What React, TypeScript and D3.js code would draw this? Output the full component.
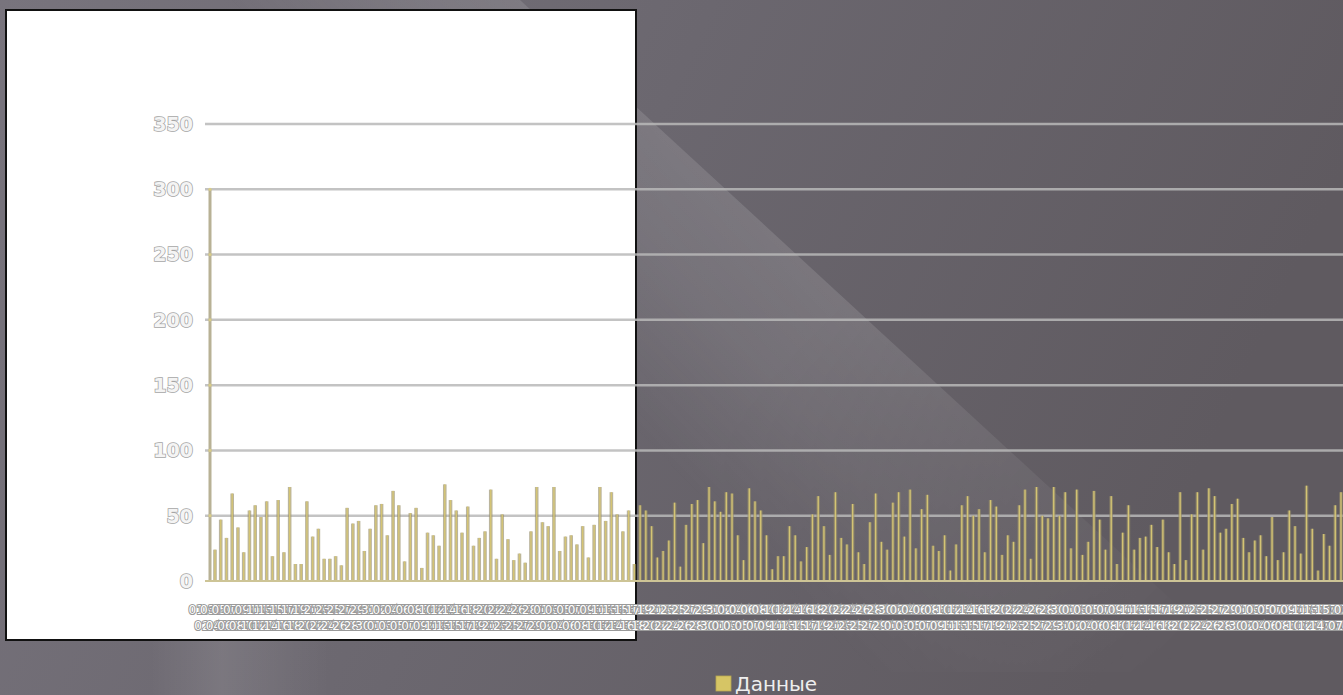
import React from 'react'
import * as d3 from 'd3'

// bar values, left to right
const values0 = [24, 47, 33, 67, 41, 22, 54, 58, 49, 61, 19, 62, 22, 72, 13, 13, 61, 34, 40, 17, 17, 19, 12, 56, 44, 46, 23, 40, 58, 59, 35, 69, 58, 15, 52, 56]
const values1 = [10, 37, 35, 27, 74, 62, 54, 37, 57, 27, 33, 38, 70, 17, 51, 32, 16, 21, 14, 38, 72, 45, 42, 72, 23, 34, 35, 28, 42, 18, 43, 72, 46, 68, 51, 38, 54, 13]
const values2 = [58, 54, 42, 18, 23, 31, 60, 11, 43, 59, 62, 29, 72, 61, 53, 68, 67, 35, 16, 71, 61, 54, 35, 9, 19, 19, 42, 35, 15, 26, 51, 65, 42, 20, 68, 33, 28, 59, 22]
const values3 = [13, 45, 67, 30, 24, 60, 68, 34, 70, 25, 55, 66, 27, 23, 35, 8, 28, 58, 65, 50, 55, 22, 62, 57, 20, 35, 30, 58, 70, 17, 72, 50, 48, 72, 50, 68, 25, 70, 20, 30, 69]
const values4 = [47, 24, 65, 13, 37, 58, 24, 33, 34, 43, 26, 47, 22, 13, 68, 16, 51, 68, 24, 71, 65, 37, 40, 59, 63, 33, 22, 31, 35, 19, 49, 16, 22, 54, 42, 21, 73, 40, 8, 36, 27, 58, 68]
const values = [...values0, ...values1, ...values2, ...values3, ...values4]
// the category labels overlap into a blur in the picture; daily dates stand in for them
const fmt = d3.timeFormat('%d.%m.%Y')
const categories = d3.timeDay.range(new Date(2012, 0, 1), new Date(2012, 0, 1 + values.length)).map(d => fmt(d))
const yTicks = [0, 50, 100, 150, 200, 250, 300, 350]
const seriesName = 'Данные'

const W = 1343
const H = 695

export default function App() {
  const x = d3.scaleBand<string>()
    .domain(categories)
    .range([212.1, 212.1 + categories.length * 5.745])
    .padding(0)
  const y = d3.scaleLinear().domain([0, 350]).range([581, 124])
  const cx = (c: string) => (x(c) as number) + x.bandwidth() / 2

  const font = '"DejaVu Sans", Verdana, sans-serif'

  return (
    <svg width={W} height={H} style={{ position: 'absolute', left: 0, top: 0, display: 'block' }}>
      <defs>
        <linearGradient id="bg" x1="0" y1="0" x2="1" y2="0.25">
          <stop offset="0" stopColor="#78747d" />
          <stop offset="0.5" stopColor="#6b676f" />
          <stop offset="1" stopColor="#5f5a60" />
        </linearGradient>
        <linearGradient id="streak" gradientUnits="userSpaceOnUse" x1="880" y1="330" x2="700" y2="500">
          <stop offset="0" stopColor="#ffffff" stopOpacity="0.13" />
          <stop offset="0.45" stopColor="#ffffff" stopOpacity="0.09" />
          <stop offset="1" stopColor="#ffffff" stopOpacity="0" />
        </linearGradient>
        <linearGradient id="fadeAlong" gradientUnits="userSpaceOnUse" x1="560" y1="0" x2="1200" y2="640">
          <stop offset="0" stopColor="#fff" />
          <stop offset="0.45" stopColor="#fff" />
          <stop offset="1" stopColor="#000" />
        </linearGradient>
        <mask id="streakMask">
          <rect x={0} y={0} width={W} height={H} fill="url(#fadeAlong)" />
        </mask>
        <linearGradient id="streak2" gradientUnits="userSpaceOnUse" x1="150" y1="640" x2="330" y2="640">
          <stop offset="0" stopColor="#ffffff" stopOpacity="0" />
          <stop offset="0.4" stopColor="#ffffff" stopOpacity="0.09" />
          <stop offset="1" stopColor="#ffffff" stopOpacity="0" />
        </linearGradient>
      </defs>

      {/* slide background */}
      <rect x={0} y={0} width={W} height={H} fill="url(#bg)" />
      <path d="M520,0 L1250,672 L0,672 L0,0 Z" fill="url(#streak)" mask="url(#streakMask)" />
      <rect x={0} y={640} width={W} height={55} fill="url(#streak2)" />

      {/* white panel */}
      <rect x={6} y={10} width={630} height={630} fill="#ffffff" stroke="#111" strokeWidth={2} />

      {/* gridlines */}
      {yTicks.filter(t => t > 0).map(t => (
        <line key={t} x1={205} x2={W} y1={y(t)} y2={y(t)} stroke="rgb(184,184,184)" strokeOpacity={0.85} strokeWidth={2.5} />
      ))}

      {/* y labels */}
      {yTicks.map(t => (
        <text key={t} x={193} y={y(t)} dy="0.36em" textAnchor="end" fontFamily={font} fontWeight="bold" fontSize={19}
          fill="#f4f4f4" stroke="#a6a6a6" strokeWidth={1.6} style={{ paintOrder: 'stroke' }}>{t}</text>
      ))}

      {/* y axis line */}
      <line x1={210} x2={210} y1={y(300)} y2={y(0)} stroke="#b8b195" strokeWidth={3} />
      {yTicks.filter(t => t > 0 && t <= 300).map(t => (
        <circle key={t} cx={210} cy={y(t)} r={1.6} fill="#d8cc88" />
      ))}

      {/* bars */}
      {values.map((v, i) => (
        <g key={i}>
          <rect x={cx(categories[i]) - 1.8} width={3.6} y={y(v)} height={y(0) - y(v)} fill="rgb(150,142,105)" fillOpacity={0.65} />
          <rect x={cx(categories[i]) - 0.7} width={1.4} y={y(v)} height={y(0) - y(v)} fill="#d4c474" />
        </g>
      ))}

      {/* baseline */}
      <line x1={205} x2={W} y1={y(0)} y2={y(0)} stroke="rgb(205,196,150)" strokeWidth={2} />

      {/* x labels, heavily overlapping */}
      {categories.map((c, i) => (
        <text key={c} x={cx(c) + 8} y={i % 2 === 0 ? 614 : 630} textAnchor="middle" fontFamily={font} fontSize={12}
          fill="#ffffff" stroke="#9a9a9a" strokeWidth={2} style={{ paintOrder: 'stroke' }}>{c}</text>
      ))}

      {/* legend */}
      <rect x={716} y={676} width={15} height={15} fill="#d6c565" stroke="#b8a850" strokeWidth={0.8} />
      <text x={735} y={691} fontFamily={font} fontSize={20} fill="#eeeeee">{seriesName}</text>
    </svg>
  )
}
